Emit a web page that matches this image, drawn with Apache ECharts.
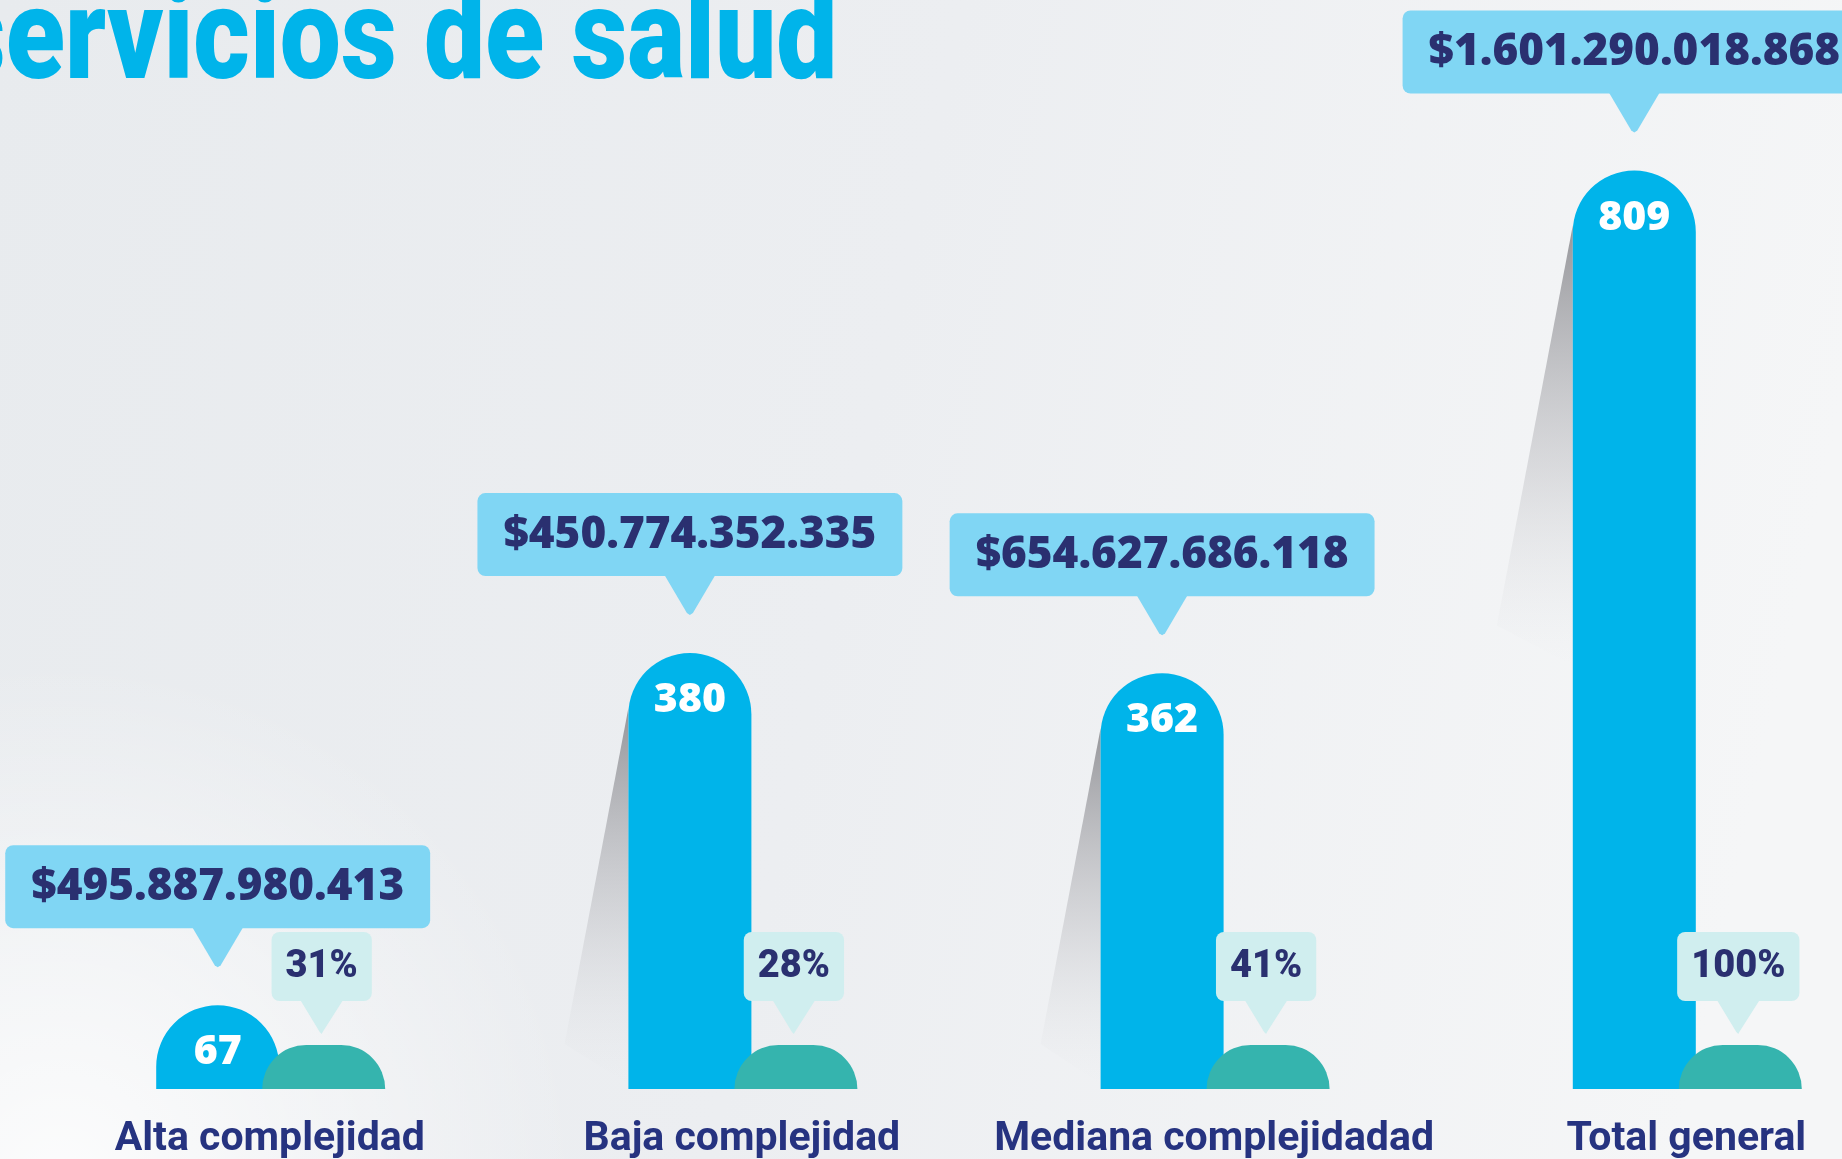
<!DOCTYPE html>
<html>
<head>
<meta charset="utf-8">
<script src="https://cdn.jsdelivr.net/npm/echarts@6/dist/echarts.min.js"></script>
<style>
html,body{margin:0;padding:0;width:1842px;height:1159px;overflow:hidden;background:#eceef1;}
#chart{width:1842px;height:1159px;}
</style>
</head>
<body>
<div id="chart"></div>
<script>
// ---- data ----
const categories = ['Alta complejidad', 'Baja complejidad', 'Mediana complejidadad', 'Total general'];
const prestadores = [67, 380, 362, 809];
const montos = [495887980413, 450774352335, 654627686118, 1601290018868];
const porcentajes = [31, 28, 41, 100];
const titleText = 'servicios de salud';

function fmtMoney(n) {
  return '$' + String(n).replace(/\B(?=(\d{3})+(?!\d))/g, '.');
}

const NAVY = '#2a3070';
const BLUE = '#00b4ea';
const TEAL = '#35b4ae';
const Y_MIN = -7.5;

const chart = echarts.init(document.getElementById('chart'), null, {renderer: 'canvas'});

const rows = categories.map((c, i) => [i, prestadores[i], porcentajes[i], montos[i]]);

// shadows behind bars
function renderShadow(params, api) {
  const base = api.coord([api.value(0), Y_MIN]);
  const top = api.coord([api.value(0), api.value(1)]);
  const L = base[0] - 61.5;
  const H = base[1] - top[1];
  if (H < 150) return null;
  const y0 = top[1] + 55;
  const len = Math.min(H - 100, 400);
  const tipX = L - 0.19 * len;
  return {
    type: 'polygon',
    shape: {points: [[L, y0], [tipX, y0 + len], [L, y0 + len + 40]]},
    style: {
      fill: new echarts.graphic.LinearGradient(0, 0, 0, 1, [
        {offset: 0, color: 'rgba(120,120,125,0.75)'},
        {offset: 0.55, color: 'rgba(170,170,175,0.35)'},
        {offset: 1, color: 'rgba(220,222,225,0)'}
      ])
    }
  };
}

function renderCallouts(params, api) {
  const idx = api.value(0);
  const base = api.coord([idx, Y_MIN]);
  const top = api.coord([idx, api.value(1)]);
  const cx = base[0];
  const domeCx = cx + 106;
  const money = fmtMoney(api.value(3));
  const pct = api.value(2) + '%';
  const boxBottom = top[1] - 77;
  const tipY = top[1] - 38;
  const pBoxBottom = base[1] - 88;
  const pTipY = base[1] - 55;
  return {
    type: 'group',
    children: [
      {
        type: 'rect',
        shape: {x: domeCx - 61.5, y: base[1] - 44, width: 123, height: 44, r: [44, 44, 0, 0]},
        style: {fill: TEAL}
      },
      {
        type: 'polygon',
        shape: {points: [[cx - 26, boxBottom - 2], [cx + 26, boxBottom - 2], [cx + 3, tipY - 2], [cx, tipY], [cx - 3, tipY - 2]]},
        style: {fill: '#80d6f4'}
      },
      {
        type: 'text',
        x: cx, y: boxBottom,
        style: {
          text: money,
          font: '800 44px "Open Sans"',
          fill: NAVY,
          align: 'center',
          verticalAlign: 'bottom',
          backgroundColor: '#80d6f4',
          padding: [19, 26, 18, 26],
          lineHeight: 46,
          borderRadius: 8
        }
      },
      {
        type: 'polygon',
        shape: {points: [[domeCx - 24, pBoxBottom - 2], [domeCx + 20, pBoxBottom - 2], [domeCx - 1, pTipY - 2], [domeCx - 2, pTipY], [domeCx - 4, pTipY - 2]]},
        style: {fill: '#d0eeef'}
      },
      {
        type: 'text',
        x: domeCx - 2, y: pBoxBottom,
        style: {
          text: pct,
          font: '900 38px Roboto',
          fill: NAVY,
          align: 'center',
          verticalAlign: 'bottom',
          backgroundColor: '#d0eeef',
          padding: [16, 14, 15, 14],
          lineHeight: 38,
          borderRadius: 8
        }
      }
    ]
  };
}

const option = {
  backgroundColor: new echarts.graphic.LinearGradient(0, 0, 1, 0.35, [
    {offset: 0, color: '#e8ebee'},
    {offset: 0.5, color: '#eceef1'},
    {offset: 1, color: '#f5f6f7'}
  ]),
  animation: false,
  graphic: [
    {
      type: 'circle',
      silent: true,
      z: -10,
      shape: {cx: 60, cy: 1180, r: 520},
      style: {fill: new echarts.graphic.RadialGradient(0.5, 0.5, 0.5, [
        {offset: 0, color: 'rgba(255,255,255,0.85)'},
        {offset: 0.6, color: 'rgba(255,255,255,0.35)'},
        {offset: 1, color: 'rgba(255,255,255,0)'}
      ])}
    },
    {
      type: 'text',
      x: -50, y: 46,
      scaleX: 0.85,
      style: {
        text: titleText,
        font: '900 128px Roboto',
        fill: BLUE,
        verticalAlign: 'middle'
      }
    }
  ],
  grid: {left: -18.4, width: 1888.8, top: 68.1, height: 1020.9, containLabel: false, outerBoundsMode: 'none'},
  xAxis: {
    type: 'category',
    data: categories,
    axisLine: {show: false},
    axisTick: {show: false},
    splitLine: {show: false},
    axisLabel: {
      interval: 0,
      margin: 30,
      color: '#263380',
      fontFamily: 'Roboto',
      fontWeight: 'bold',
      fontSize: 41,
      align: 'center',
      padding: [0, 0, 0, 104]
    }
  },
  yAxis: {type: 'value', min: Y_MIN, max: 900, startValue: Y_MIN, show: false, splitLine: {show: false}},
  series: [
    {
      type: 'custom',
      name: 'sombra',
      renderItem: renderShadow,
      data: rows,
      encode: {x: 0, y: 1},
      z: 1,
      silent: true
    },
    {
      type: 'bar',
      name: 'Prestadores',
      data: prestadores,
      barWidth: 123,
      itemStyle: {color: BLUE, borderRadius: [61.5, 61.5, 0, 0]},
      label: {
        show: true,
        position: 'insideTop',
        distance: 27,
        color: '#ffffff',
        fontFamily: '"Open Sans"',
        fontWeight: 800,
        fontSize: 41
      },
      z: 2
    },
    {
      type: 'custom',
      name: 'Montos',
      renderItem: renderCallouts,
      data: rows,
      encode: {x: 0, y: 1},
      z: 3,
      silent: true
    }
  ]
};
chart.setOption(option);
</script>
</body>
</html>
